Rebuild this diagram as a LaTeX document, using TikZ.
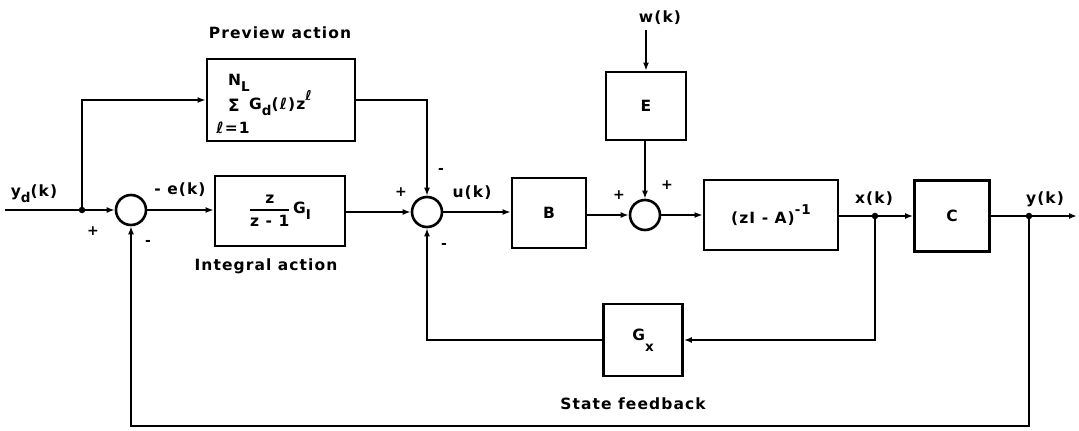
\documentclass[tikz,border=0pt]{standalone}
\usepackage{amsmath}
\usepackage{fontspec}
\setmainfont{DejaVu Sans}[LetterSpace=7]
\usetikzlibrary{arrows.meta,calc}
\newcommand\sbs[1]{\raisebox{-0.4em}{\fontsize{13.5}{14}\selectfont #1}}
\newcommand\sps[1]{\raisebox{0.55em}{\fontsize{13.5}{14}\selectfont #1}}
\begin{document}
\begin{tikzpicture}[x=1pt,y=-1pt,
  txt/.style={font=\bfseries\fontsize{15.5}{17}\selectfont, inner sep=0pt},
  sgn/.style={font=\bfseries\fontsize{14}{14}\selectfont, inner sep=0pt},
  blk/.style={draw, line width=2.8pt, font=\bfseries\fontsize{15.5}{17}\selectfont, inner sep=0pt},
  sumc/.style={draw, circle, line width=2.6pt, minimum size=30pt, inner sep=0pt},
  wire/.style={line width=2.2pt},
  sig/.style={line width=2.2pt, -{Latex[length=8pt,width=6pt]}},
  dotj/.style={circle, fill, minimum size=6.5pt, inner sep=0pt}]
\useasboundingbox (0,0) rectangle (1079,431);

% blocks
\node[blk, minimum width=148pt, minimum height=82pt] (prev) at (281,100) {};
\node[blk, minimum width=130pt, minimum height=70pt] (ibox) at (280,211)
  {$\genfrac{}{}{1.6pt}{0}{\hbox{z}}{\hbox{z - 1}}$\,G\sbs{I}};
\node[blk, minimum width=74pt, minimum height=70pt] (bbox) at (549,213) {B};
\node[blk, minimum width=80pt, minimum height=68pt] (ebox) at (646,106) {E};
\node[blk, minimum width=134pt, minimum height=70pt] (zia) at (771,215) {(zI - A)\sps{-1}};
\node[blk, minimum width=75pt, minimum height=71pt] (cbox) at (952,216) {C};
\node[blk, minimum width=79pt, minimum height=72pt] (gx) at (643,340) {\raisebox{0.3em}{G}\sbs{x}};

% preview content
\node[txt, anchor=center] (nl) at (239,83) {N\sbs{L}};
\node[txt, anchor=center, font=\bfseries\fontsize{17}{18}\selectfont] (sg) at (234,105) {Σ};
\node[txt, anchor=west] (gd) at (249,103) {G\sbs{d}(ℓ)z\sps{ℓ}};
\node[txt, anchor=center] (l1) at (233,128) {ℓ=1};

% summing junctions
\node[sumc] (s1) at (131,210) {};
\node[sumc] (s2) at (427,212) {};
\node[sumc] (s3) at (645,215) {};

% coordinates
\coordinate (in) at (5,210);
\node[dotj] (j1) at (82,210) {};
\node[dotj] (xj) at (875,216) {};
\node[dotj] (yj) at (1029,216) {};
\coordinate (out) at (1077,216);
\coordinate (wtop) at (646,30);
\coordinate (fb) at (131,426);

% connectors
\draw[wire] (in) -- (j1);
\draw[sig] (j1) -- (s1);
\draw[sig] (j1) |- (prev.west);
\draw[sig] (s1) -- (s1 -| ibox.west);
\draw[sig] (ibox.east |- s2) -- (s2);
\draw[sig] (prev.east) -| (s2.north);
\draw[sig] (s2) -- (s2 -| bbox.west);
\draw[sig] (bbox.east |- s3) -- (s3);
\draw[sig] (wtop) -- (ebox.north);
\draw[sig] (ebox.south -| s3) -- (s3.north);
\draw[sig] (s3) -- (s3 -| zia.west);
\draw[wire] (zia.east |- xj) -- (xj);
\draw[sig] (xj) -- (xj -| cbox.west);
\draw[wire] (cbox.east |- yj) -- (yj);
\draw[sig] (yj) -- (out);
\draw[sig] (xj) |- (gx.east);
\draw[sig] (gx.west) -| (s2.south);
\draw[sig] (yj) |- (fb) -- (s1.south);

% labels
\node[txt] (lprev) at (280,33) {Preview action};
\node[txt] (lint) at (266,266) {Integral action};
\node[txt] (lstate) at (633,404) {State feedback};
\node[txt] (lyd) at (34,194) {y\sbs{d}(k)};
\node[txt] (le) at (180,190) {- e(k)};
\node[txt] (lu) at (472,193) {u(k)};
\node[txt] (lw) at (660,18) {w(k)};
\node[txt] (lx) at (874,199) {x(k)};
\node[txt] (ly) at (1045,199) {y(k)};

% signs
\node[sgn] (p1) at (93,231) {+};
\node[sgn] (m1) at (148,243) {-};
\node[sgn] (p2) at (401,192) {+};
\node[sgn] (m2a) at (441,171) {-};
\node[sgn] (m2b) at (444,246) {-};
\node[sgn] (p3a) at (619,195) {+};
\node[sgn] (p3b) at (667,185) {+};
\end{tikzpicture}
\end{document}
